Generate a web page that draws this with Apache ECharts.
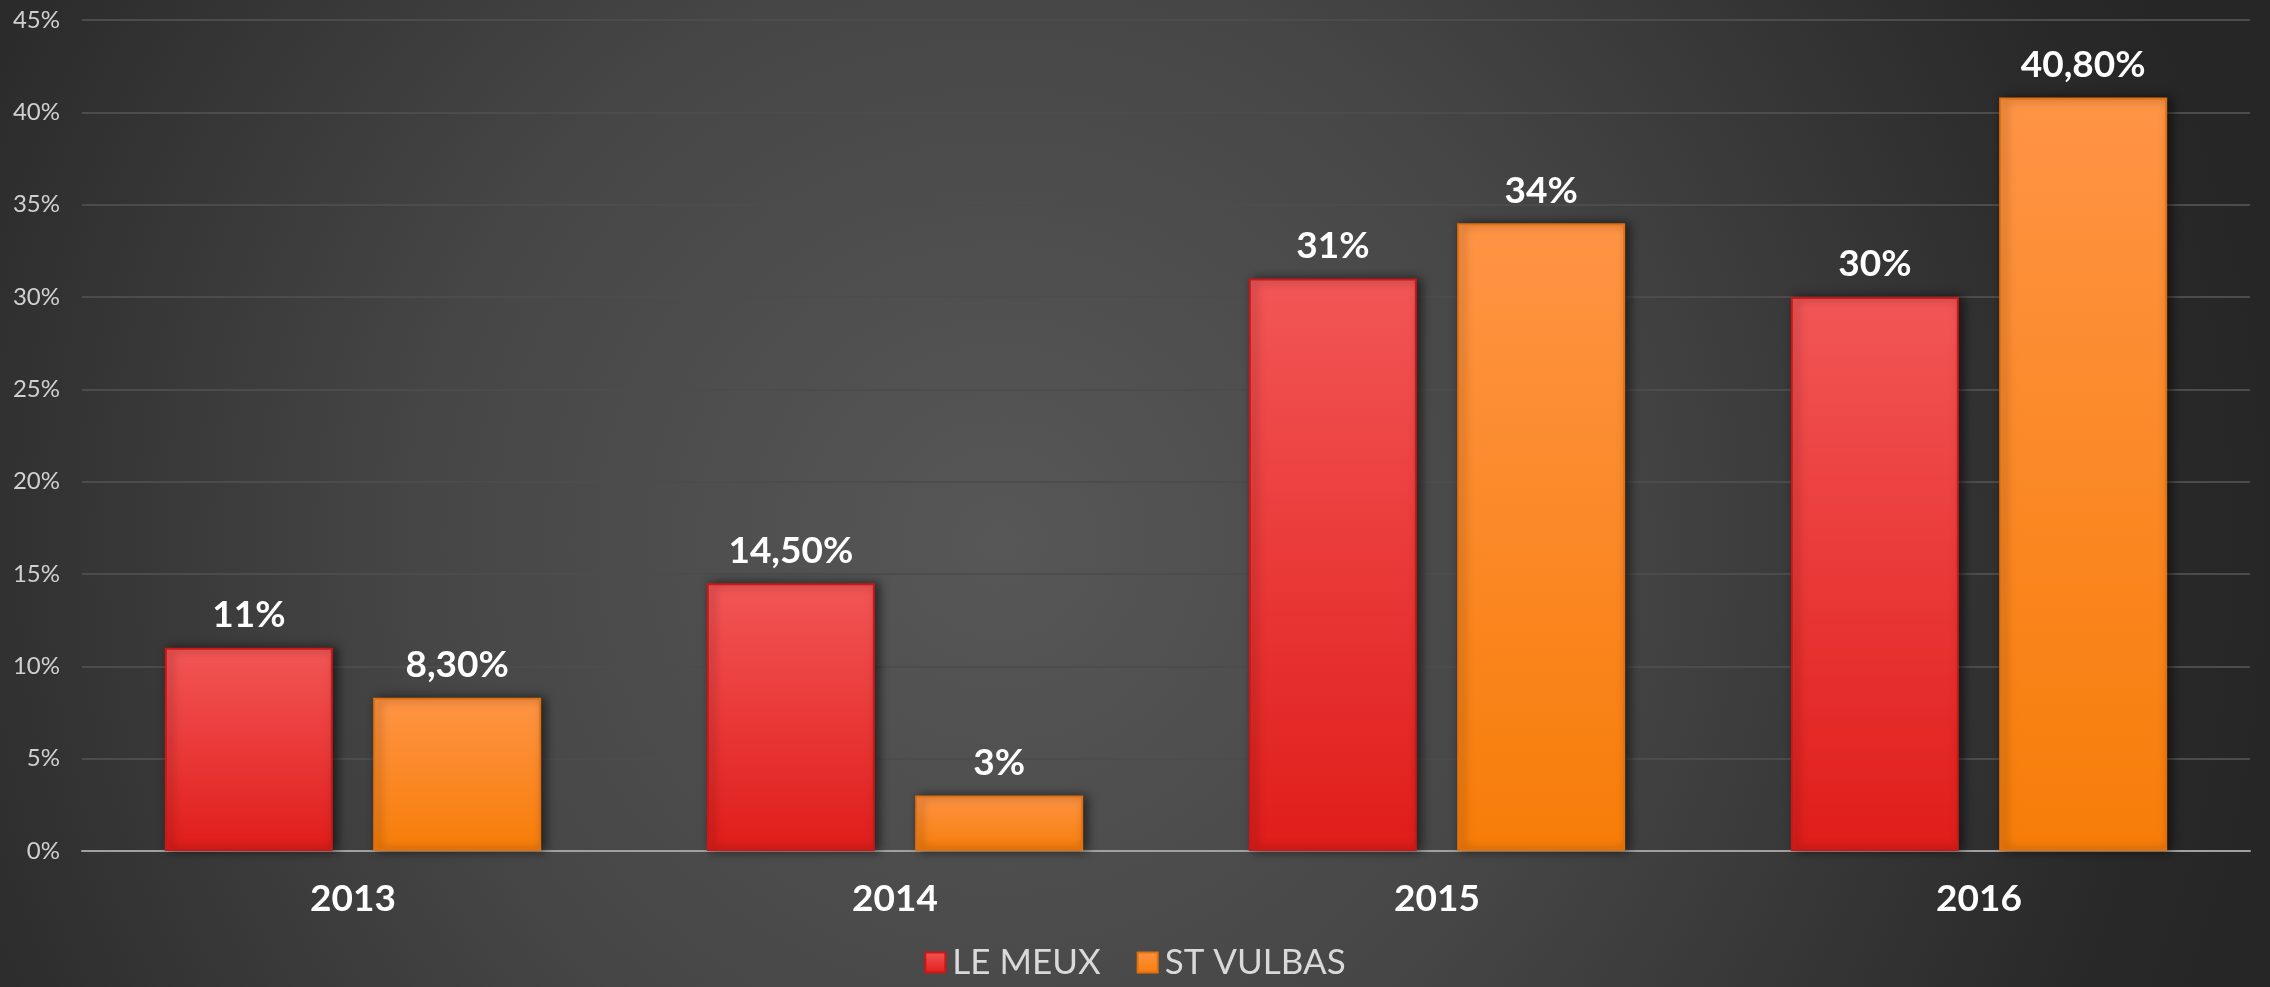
<!DOCTYPE html>
<html>
<head>
<meta charset="utf-8">
<script src="https://cdn.jsdelivr.net/npm/echarts@6/dist/echarts.min.js"></script>
<style>
  html, body { margin: 0; padding: 0; }
  #chart { width: 2270px; height: 987px; }
</style>
</head>
<body>
<div id="chart"></div>
<script>
const years = ['2013', '2014', '2015', '2016'];
const leMeux = [11, 14.5, 31, 30];
const stVulbas = [8.3, 3, 34, 40.8];
const yTicks = { min: 0, max: 45, interval: 5 };

// labels as printed on the chart (french decimals)
const pct = (v) => {
  const s = Number.isInteger(v) ? `${v}` : v.toFixed(2).replace('.', ',');
  return `${s}%`;
};

const barGradient = (top, bottom) =>
  new echarts.graphic.LinearGradient(0, 0, 0, 1, [
    { offset: 0, color: top },
    { offset: 1, color: bottom },
  ]);

const makeSeries = (name, data, top, bottom, border) => ({
  name,
  type: 'bar',
  data,
  barWidth: '31%',
  barGap: '24%',
  itemStyle: {
    color: barGradient(top, bottom),
    borderColor: border,
    borderWidth: 2,
    shadowColor: 'rgba(0,0,0,0.55)',
    shadowBlur: 10,
    shadowOffsetX: 4,
    shadowOffsetY: 0,
  },
  label: {
    show: true,
    position: 'top',
    distance: 14,
    formatter: (p) => pct(p.value),
    color: '#ffffff',
    fontFamily: 'Lato',
    fontWeight: 'bold',
    fontSize: 37,
  },
});

const chart = echarts.init(document.getElementById('chart'));
chart.setOption({
  animation: false,
  backgroundColor: new echarts.graphic.RadialGradient(0.44, 0.55, 1.3, [
    { offset: 0, color: '#575757' },
    { offset: 0.45, color: '#464646' },
    { offset: 0.9, color: '#292929' },
    { offset: 1, color: '#262626' },
  ]),
  grid: { left: 82, right: 20, top: 20, bottom: 136 },
  legend: {
    bottom: 2,
    left: 'center',
    itemWidth: 20,
    itemHeight: 20,
    itemGap: 36,
    icon: 'rect',
    textStyle: { color: '#d9d9d9', fontFamily: 'Lato', fontSize: 35, padding: [0, 0, 0, 2] },
    data: ['LE MEUX', 'ST VULBAS'],
  },
  xAxis: {
    type: 'category',
    data: years,
    axisTick: { show: false },
    axisLine: { lineStyle: { color: '#a0a0a0', width: 2 } },
    axisLabel: {
      color: '#ffffff',
      fontFamily: 'Lato',
      fontWeight: 'bold',
      fontSize: 37,
      margin: 30,
    },
  },
  yAxis: {
    type: 'value',
    min: yTicks.min,
    max: yTicks.max,
    interval: yTicks.interval,
    axisLabel: {
      formatter: '{value}%',
      color: '#d0d0d0',
      fontFamily: 'Lato',
      fontSize: 24,
      margin: 22,
    },
    splitLine: { lineStyle: { color: '#4c4c4c', width: 2 } },
  },
  series: [
    makeSeries('LE MEUX', leMeux, '#f25656', '#e01d1a', '#c81818'),
    makeSeries('ST VULBAS', stVulbas, '#ff9445', '#f77d08', '#e07010'),
  ],
});
</script>
</body>
</html>
